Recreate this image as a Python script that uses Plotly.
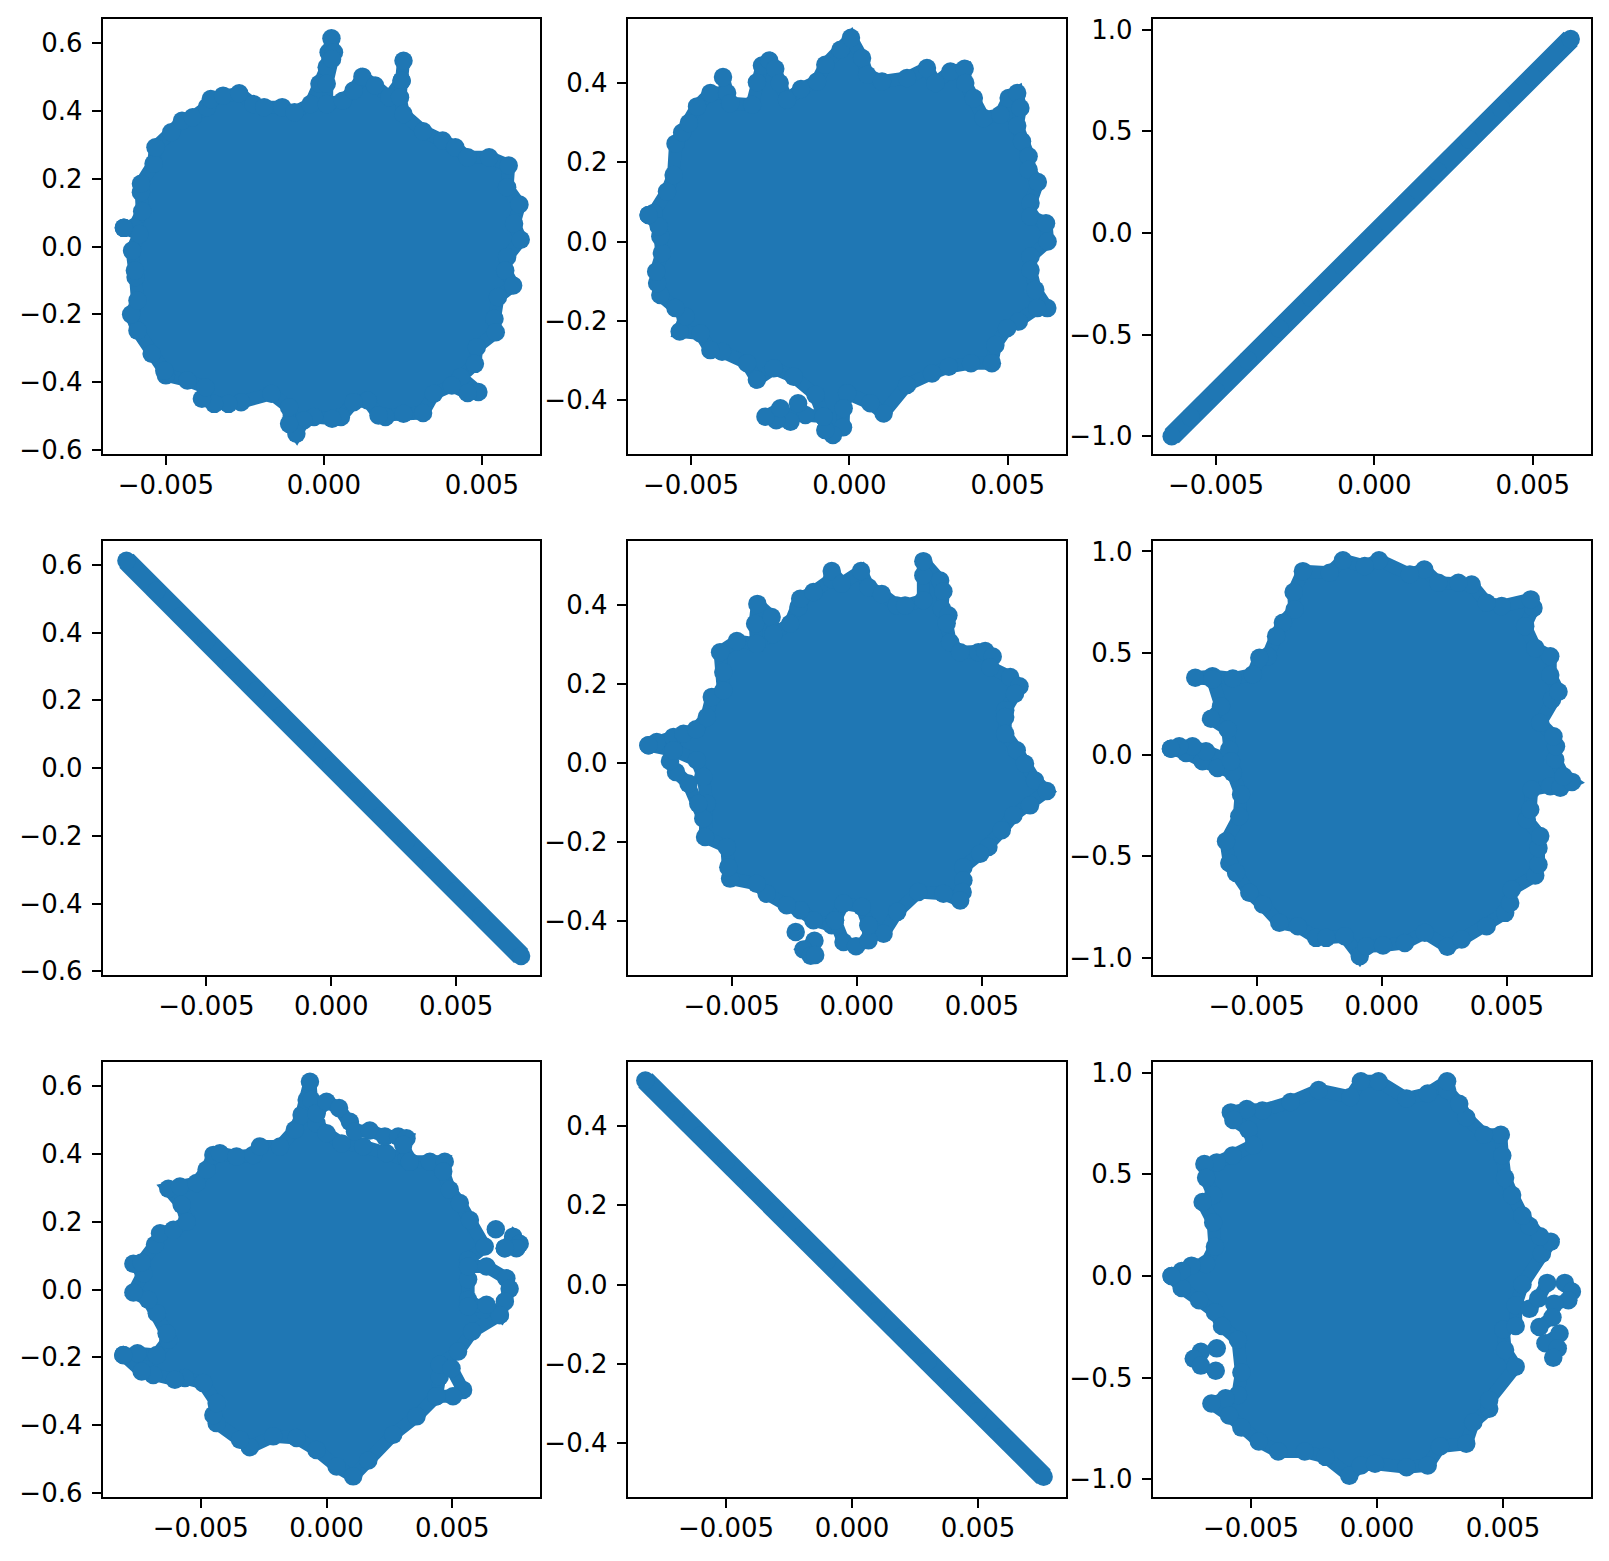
import plotly.graph_objects as go

BLUE = "#1f77b4"
x_ticks = [-0.005, 0.0, 0.005]
x_labels = ["\u22120.005", "0.000", "0.005"]
y_ticks_06 = [-0.6, -0.4, -0.2, 0.0, 0.2, 0.4, 0.6]
y_labels_06 = ["\u22120.6", "\u22120.4", "\u22120.2", "0.0", "0.2", "0.4", "0.6"]
y_ticks_04 = [-0.4, -0.2, 0.0, 0.2, 0.4]
y_labels_04 = ["\u22120.4", "\u22120.2", "0.0", "0.2", "0.4"]
y_ticks_10 = [-1.0, -0.5, 0.0, 0.5, 1.0]
y_labels_10 = ["\u22121.0", "\u22120.5", "0.0", "0.5", "1.0"]

panel_11 = [(-.00633,.055),(-.0060,.057),(-.00575,.104),(-.00579,.16),(-.00579,.185),(-.00539,.244),(-.00533,.293),(-.00483,.337),(-.00449,.371),(-.00415,.381),(-.0037,.411),(-.00358,.435),(-.00319,.445),(-.00268,.452),(-.00223,.42),(-.00189,.411),(-.00132,.411),(-.00093,.396),(-.00042,.42),(-.00014,.48),(.00009,.529),(.00015,.573),(.00024,.614),(.00032,.573),(.00026,.553),(.00009,.48),(.00009,.42),(.0006,.43),(.00094,.46),(.00122,.501),(.00162,.475),(.00207,.44),(.00246,.489),(.00252,.548),(.00246,.489),(.00241,.44),(.00252,.391),(.00314,.34),(.00376,.3125),(.00416,.293),(.00455,.263),(.00523,.263),(.00585,.239),(.0058,.175),(.00619,.124),(.00602,.067),(.00623,.02),(.0058,-.031),(.00574,-.071),(.00599,-.115),(.00551,-.149),(.0054,-.213),(.00544,-.253),(.00484,-.297),(.00478,-.346),(.00433,-.385),(.00489,-.429),(.00455,-.432),(.00405,-.41),(.00348,-.434),(.00314,-.491),(.00252,-.493),(.00195,-.503),(.00173,-.498),(.00139,-.454),(.00094,-.459),(.00054,-.503),(.00026,-.508),(-.00031,-.503),(-.00064,-.513),(-.00087,-.552),(-.0011,-.523),(-.0011,-.474),(-.00166,-.434),(-.00262,-.459),(-.00302,-.464),(-.00347,-.464),(-.00386,-.449),(-.00375,-.415),(-.00432,-.395),(-.005,-.38),(-.00505,-.366),(-.00545,-.316),(-.0059,-.248),(-.0061,-.2),(-.0059,-.159),(-.00596,-.09),(-.00598,-.071),(-.00607,-.012),(-.00584,.037)]
extra_11 = []

panel_12 = [(-.00634,.067),(-.00618,.072),(-.00576,.126),(-.00555,.168),(-.00549,.247),(-.00528,.275),(-.00507,.299),(-.00481,.341),(-.00439,.375),(-.00386,.375),(-.00399,.415),(-.00376,.349),(-.00307,.345),(-.00292,.402),(-.00276,.444),(-.00253,.457),(-.00234,.436),(-.0022,.4),(-.00197,.358),(-.00153,.385),(-.00102,.404),(-.00076,.446),(-.00028,.484),(.00005,.514),(.0004,.463),(.00056,.421),(.00103,.404),(.00182,.413),(.00245,.438),(.00272,.4),(.00319,.429),(.00364,.436),(.00366,.4),(.00393,.362),(.00424,.312),(.00477,.32),(.00503,.362),(.0053,.375),(.0054,.337),(.0053,.292),(.00545,.253),(.00566,.215),(.00566,.181),(.00595,.15),(.00572,.097),(.00572,.063),(.00621,.046),(.00626,0),(.00572,-.038),(.00572,-.072),(.00587,-.122),(.00625,-.168),(.00593,-.168),(.00535,-.202),(.00498,-.219),(.00461,-.261),(.0045,-.307),(.00384,-.307),(.00314,-.316),(.00261,-.333),(.00182,-.362),(.00108,-.434),(.00066,-.408),(-.00007,-.383),(-.00018,-.421),(-.0002,-.469),(-.00052,-.488),(-.00076,-.476),(-.00081,-.442),(-.00107,-.387),(-.00176,-.341),(-.00239,-.32),(-.00292,-.349),(-.00323,-.307),(-.00402,-.278),(-.00439,-.274),(-.0047,-.232),(-.00536,-.227),(-.00518,-.189),(-.00549,-.168),(-.00597,-.135),(-.00607,-.105),(-.0061,-.076),(-.00592,-.029),(-.00597,.013),(-.00602,.038)]
extra_12 = [(-.00081,-.442),(-.00139,-.438),(-.00162,-.408),(-.00186,-.455),(-.00231,-.451),(-.00265,-.442),(-.00218,-.421)]

panel_13 = [(-.0064,-1.0),(-.0058,-.905),(-.005,-.78),(-.004,-.625),(-.003,-.47),(-.002,-.318),(-.001,-.162),(0,-.007),(.001,.148),(.002,.303),(.003,.459),(.004,.614),(.005,.769),(.0062,.955)]
extra_13 = []

panel_21 = [(-.0082,.612),(-.007,.523),(-.006,.449),(-.005,.376),(-.004,.302),(-.003,.228),(-.002,.154),(-.001,.08),(0,.006),(.001,-.068),(.002,-.142),(.003,-.215),(.004,-.289),(.005,-.363),(.006,-.437),(.0076,-.555)]
extra_21 = []

panel_22 = [(-.00832,.045),(-.00799,.053),(-.00732,.066),(-.00692,.074),(-.00642,.085),(-.00599,.116),(-.00579,.167),(-.00533,.183),(-.00533,.23),(-.00546,.28),(-.00479,.308),(-.004,.301),(-.00406,.352),(-.00397,.402),(-.0034,.369),(-.00333,.326),(-.00266,.352),(-.00233,.394),(-.00226,.415),(-.00173,.432),(-.001,.465),(-.001,.485),(-.0006,.453),(.00017,.485),(.00047,.444),(.001,.427),(.0016,.398),(.00193,.398),(.00266,.411),(.00266,.474),(.00266,.51),(.00333,.461),(.00346,.434),(.0034,.39),(.00366,.373),(.00359,.353),(.00373,.305),(.00413,.28),(.00486,.28),(.00513,.283),(.00543,.269),(.00533,.242),(.00613,.217),(.0065,.194),(.00632,.175),(.00593,.133),(.00593,.116),(.00593,.074),(.00639,.032),(.00672,-.002),(.00712,-.044),(.00759,-.071),(.00692,-.107),(.00626,-.132),(.00579,-.17),(.00526,-.212),(.00493,-.229),(.00426,-.263),(.00426,-.296),(.00423,-.326),(.00413,-.347),(.00346,-.33),(.00246,-.326),(.00162,-.376),(.00107,-.431),(.00047,-.41),(.0002,-.363),(-.00053,-.355),(-.00087,-.397),(-.001,-.41),(-.00173,-.397),(-.00226,-.372),(-.0028,-.359),(-.0036,-.33),(-.004,-.305),(-.00506,-.292),(-.00513,-.263),(-.00519,-.212),(-.00606,-.187),(-.00599,-.103),(-.00613,-.035),(-.00639,.007),(-.00732,.032)]
extra_22 = [(-.00244,-.427),None,(-.00169,-.449),(-.00213,-.471),(-.00184,-.487),(-.00166,-.485),None,(-.00087,-.397),(-.00053,-.452),(-.00003,-.463),(.00047,-.448),(.00047,-.41),None,(-.00613,-.14),(-.00633,-.103),(-.00672,-.052),(-.00722,-.023),(-.00746,.005),(-.00732,.032)]

panel_23 = [(-.00842,.028),(-.00782,.008),(-.00716,-.033),(-.00656,-.066),(-.00595,-.09),(-.00562,-.197),(-.00569,-.304),(-.00622,-.427),(-.00609,-.534),(-.00582,-.583),(-.00529,-.681),(-.00475,-.739),(-.00409,-.829),(-.00335,-.846),(-.00262,-.903),(-.00222,-.903),(-.00148,-.895),(-.00088,-.993),(-.00061,-.944),(.00005,-.941),(.00092,-.928),(.00172,-.878),(.00262,-.947),(.00319,-.911),(.00419,-.846),(.00493,-.78),(.00513,-.731),(.00519,-.665),(.00613,-.596),(.00626,-.542),(.00626,-.46),(.00633,-.402),(.00579,-.32),(.00593,-.271),(.00599,-.172),(.00673,-.156),(.00713,-.164),(.0076,-.135),(.00726,-.107),(.00693,-.025),(.00696,.041),(.00686,.09),(.00633,.156),(.0068,.271),(.00706,.309),(.00673,.391),(.00673,.484),(.00613,.525),(.00573,.632),(.00606,.722),(.00595,.764),(.00479,.731),(.00419,.747),(.00359,.837),(.00306,.846),(.00226,.846),(.0017,.911),(.00112,.887),(-.00011,.957),(-.00068,.928),(-.00155,.957),(-.00208,.895),(-.00315,.903),(-.00352,.8),(-.00348,.714),(-.00395,.649),(-.00422,.583),(-.00455,.484),(-.00489,.476),(-.00515,.394),(-.00595,.374),(-.00676,.386),(-.00745,.378),(-.00676,.37),(-.00642,.238),(-.00682,.176),(-.00615,.123),(-.00609,.025),(-.00602,-.033),(-.00702,.016),(-.00756,.041),(-.00809,.041)]
extra_23 = []

panel_31 = [(-.00808,-.193),(-.00752,-.188),(-.00675,-.193),(-.00629,-.148),(-.00636,-.129),(-.00675,-.07),(-.00709,-.03),(-.00768,-.009),(-.00728,.048),(-.00768,.076),(-.00735,.08),(-.00682,.132),(-.00662,.166),(-.00609,.176),(-.00556,.2),(-.00576,.25),(-.00629,.297),(-.00583,.304),(-.00517,.314),(-.00477,.353),(-.0045,.397),(-.00424,.402),(-.00358,.392),(-.00291,.397),(-.00265,.422),(-.00185,.422),(-.00126,.471),(-.00099,.515),(-.00079,.559),(-.00066,.613),(-.0006,.559),(-.0004,.52),(-.0004,.49),(0,.461),(.0006,.431),(.00146,.422),(.00238,.402),(.00318,.387),(.00331,.377),(.00411,.377),(.0047,.377),(.00464,.348),(.0049,.294),(.0053,.255),(.0057,.205),(.00629,.127),(.00563,.087),(.00563,.03),(.00563,-.03),(.00622,-.06),(.00689,-.075),(.00579,-.124),(.00523,-.183),(.0045,-.222),(.0045,-.257),(.00437,-.315),(.00358,-.374),(.00265,-.428),(.00166,-.504),(.00106,-.551),(.0004,-.522),(-.0004,-.473),(-.00119,-.438),(-.00212,-.433),(-.00305,-.465),(-.00344,-.443),(-.00437,-.394),(-.0045,-.37),(-.00437,-.335),(-.0049,-.276),(-.00563,-.261),(-.00603,-.266),(-.00689,-.252),(-.00735,-.242)]
extra_31 = [(.00673,.178),None,(.00709,.122),(.00742,.156),(.00768,.135),(.00755,.122),(.00709,.122),None,(-.0004,.52),(0,.554),(.0005,.535),(.00093,.495),(.00113,.466),(.00172,.469),(.00232,.451),(.00285,.451),(.00318,.446),(.00305,.427),(.00331,.377),None,(.00563,.068),(.00636,.068),(.00715,.033),(.00728,.002),(.00709,-.035),(.00689,-.075),(.00636,-.045),(.00563,-.05),None,(.0045,-.222),(.00497,-.232),(.00543,-.296),(.00503,-.315),(.00437,-.315)]

panel_32 = [(-.0082,.515),(-.007,.439),(-.006,.376),(-.005,.312),(-.004,.249),(-.003,.186),(-.002,.123),(-.001,.06),(0,-.004),(.001,-.067),(.002,-.13),(.003,-.193),(.004,-.257),(.005,-.32),(.006,-.383),(.0076,-.485)]
extra_32 = []

panel_33 = [(-.00815,0),(-.00775,-.059),(-.00706,-.119),(-.00643,-.178),(-.00615,-.246),(-.00552,-.314),(-.00538,-.475),(-.00552,-.585),(-.00601,-.602),(-.00657,-.627),(-.00587,-.686),(-.00538,-.746),(-.00469,-.814),(-.00392,-.864),(-.00287,-.864),(-.00204,-.89),(-.0011,-.983),(-.00064,-.932),(-.00008,-.924),(.00117,-.941),(.00201,-.932),(.0025,-.839),(.00354,-.825),(.00382,-.72),(.00445,-.653),(.00445,-.61),(.0055,-.446),(.00508,-.364),(.00501,-.263),(.0055,-.246),(.0055,-.144),(.00577,-.042),(.00654,.11),(.00689,.169),(.00647,.195),(.00605,.246),(.00577,.297),(.00536,.398),(.00508,.483),(.00497,.593),(.00491,.695),(.00424,.695),(.00354,.78),(.00326,.847),(.00278,.915),(.00278,.958),(.00201,.898),(.00117,.873),(.00006,.958),(-.00064,.958),(-.00106,.881),(-.00232,.915),(-.00343,.856),(-.00455,.814),(-.00517,.822),(-.0058,.805),(-.0057,.768),(-.0051,.72),(-.0049,.644),(-.00573,.593),(-.00636,.559),(-.00685,.551),(-.00678,.483),(-.0065,.398),(-.00692,.364),(-.0065,.263),(-.00643,.144),(-.00678,.059),(-.00736,.051),(-.00775,.025)]
extra_33 = [(-.00636,-.356),None,(-.00699,-.373),(-.00727,-.407),(-.00699,-.441),None,(-.0064,-.466),None,(.00605,-.161),(.0064,-.11),(.00675,-.034),None,(.00745,-.034),(.00773,-.076),(.00759,-.119),(.00703,-.136),(.00696,-.203),(.00644,-.251),None,(.00724,-.283),(.00668,-.331),(.00717,-.356),(.00699,-.402)]

columns_px = [(102.7, 540.3), (627.7, 1066.3), (1152.7, 1591.3)]
rows_px = [(19.0, 453.7), (540.7, 975.0), (1062.0, 1496.7)]
x_range_rows = [[-0.0070, 0.00685], [-0.00915, 0.00837], [-0.0089, 0.0085]]
y_range_cols = [[-0.611, 0.671], [-0.5355, 0.5616], [-1.086, 1.053]]
y_ticks_cols = [y_ticks_06, y_ticks_04, y_ticks_10]
y_labels_cols = [y_labels_06, y_labels_04, y_labels_10]
W, H = 1609, 1561

outlines = [panel_11, panel_12, panel_13, panel_21, panel_22, panel_23, panel_31, panel_32, panel_33]
extras = [extra_11, extra_12, extra_13, extra_21, extra_22, extra_23, extra_31, extra_32, extra_33]
diagonal = {2, 3, 7}

fig = go.Figure()
layout = {}
for i in range(9):
    r, c = i // 3, i % 3
    suf = "" if i == 0 else str(i + 1)
    common = dict(showgrid=False, zeroline=False, showline=True, mirror=True, linecolor="black",
                  linewidth=2, ticks="outside", ticklen=9, tickwidth=2, tickcolor="black", automargin=False,
                  tickfont=dict(family="DejaVu Sans", size=26, color="black"), tickmode="array")
    layout["xaxis" + suf] = dict(common, domain=[columns_px[c][0] / W, columns_px[c][1] / W],
                                 range=x_range_rows[r], tickvals=x_ticks, ticktext=x_labels,
                                 ticklabelstandoff=-2, anchor="y" + suf)
    layout["yaxis" + suf] = dict(common, domain=[1 - rows_px[r][1] / H, 1 - rows_px[r][0] / H],
                                 range=y_range_cols[c], tickvals=y_ticks_cols[c], ticktext=y_labels_cols[c],
                                 ticklabelstandoff=4, anchor="x" + suf)
    pts = outlines[i]
    if i in diagonal:
        xs = [p[0] for p in pts]
        ys = [p[1] for p in pts]
        fig.add_trace(go.Scatter(x=xs, y=ys, mode="lines+markers", xaxis="x" + suf, yaxis="y" + suf,
                                 line=dict(color=BLUE, width=20), marker=dict(color=BLUE, size=18.5),
                                 hoverinfo="skip", showlegend=False))
    else:
        closed = pts + [pts[0]]
        xs = [p[0] for p in closed]
        ys = [p[1] for p in closed]
        fig.add_trace(go.Scatter(x=xs, y=ys, mode="lines+markers", fill="toself", fillcolor=BLUE,
                                 xaxis="x" + suf, yaxis="y" + suf,
                                 line=dict(color=BLUE, width=13), marker=dict(color=BLUE, size=18.5),
                                 hoverinfo="skip", showlegend=False))
    if extras[i]:
        ex = [p[0] if p else None for p in extras[i]]
        ey = [p[1] if p else None for p in extras[i]]
        fig.add_trace(go.Scatter(x=ex, y=ey, mode="lines+markers", xaxis="x" + suf, yaxis="y" + suf,
                                 line=dict(color=BLUE, width=13), marker=dict(color=BLUE, size=18.5),
                                 hoverinfo="skip", showlegend=False))

fig.update_layout(width=W, height=H, margin=dict(l=0, r=0, t=0, b=0), paper_bgcolor="white",
                  plot_bgcolor="white", showlegend=False, **layout)
fig.write_html("out.html", config={"displayModeBar": False},
               post_script="document.body.style.margin='0';document.body.style.overflow='hidden';")
